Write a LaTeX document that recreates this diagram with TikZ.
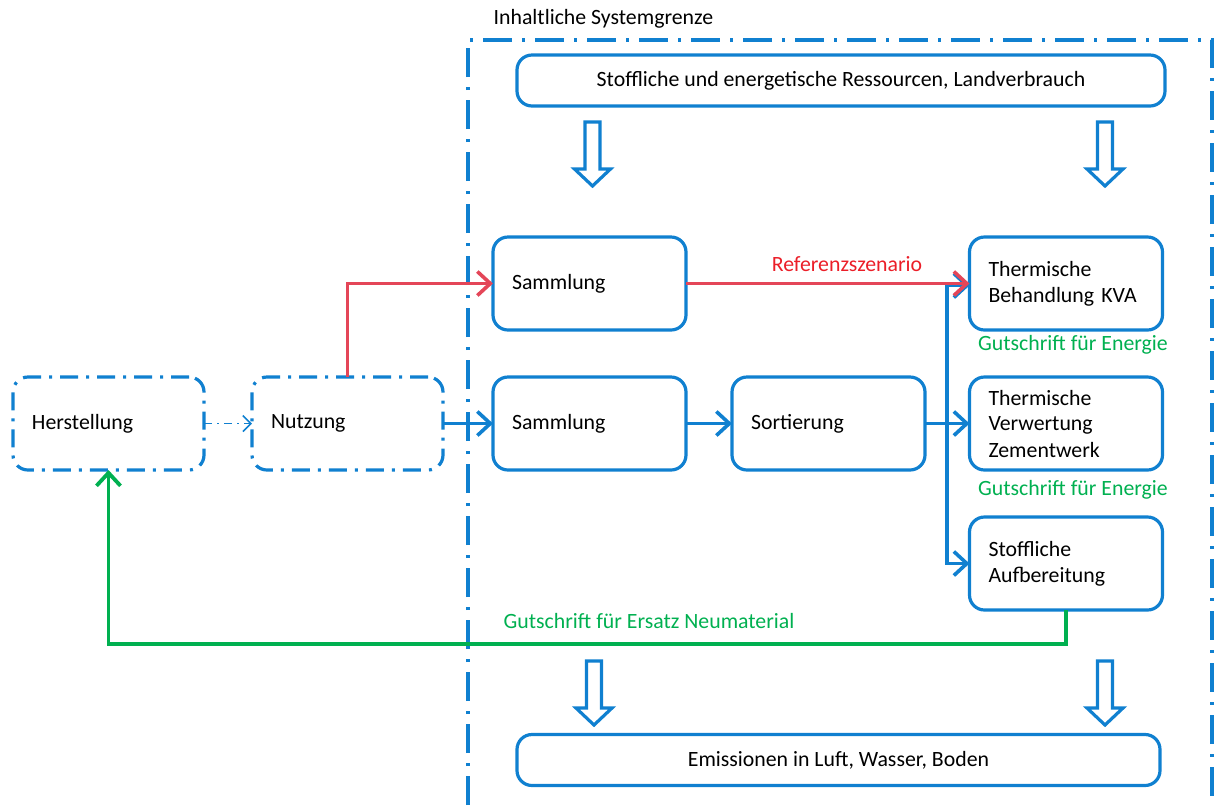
\documentclass[tikz,border=0pt]{standalone}
\usepackage{fontspec}
\setmainfont{Carlito}
\usetikzlibrary{positioning,arrows.meta,calc}
\definecolor{boxblue}{RGB}{16,128,208}
\definecolor{refred}{RGB}{228,70,88}
\definecolor{textred}{RGB}{235,30,40}
\definecolor{gutgreen}{RGB}{0,176,80}

\begin{document}
\begin{tikzpicture}[x=0.5pt,y=-0.5pt,outer sep=0pt,font=\fontsize{10.9}{13}\selectfont]
        \tikzset{box/.style={draw=boxblue,line width=1.6pt,rounded corners=7.5pt,minimum height=46.5pt,text width=77.5pt,inner xsep=9.5pt,align=left}}
        \tikzset{phase/.style={box,text width=76.5pt,dash pattern=on 9pt off 4pt on 1.5pt off 4pt}}
        \tikzset{widebox/.style={draw=boxblue,line width=1.6pt,rounded corners=7.5pt,minimum height=25.5pt,align=center}}
        \tikzset{flowline/.style={draw=boxblue,line width=1.8pt,-{Straight Barb[length=6.5pt,width=12pt]}}}
        \tikzset{refline/.style={draw=refred,line width=1.8pt,-{Straight Barb[length=6.5pt,width=12pt]}}}
        \tikzset{gutline/.style={draw=gutgreen,line width=1.9pt,-{Straight Barb[length=6.5pt,width=12pt]}}}
        \tikzset{grenze/.style={draw=boxblue,line width=1.6pt,dash pattern=on 14.5pt off 5pt on 1.5pt off 5pt}}
        \tikzset{gutlabel/.style={text=gutgreen}}
        \tikzset{downarrow/.pic={\draw[draw=boxblue,line width=1.6pt,fill=white] (-7.5,0) -- (7.5,0) -- (7.5,47) -- (18,47) -- (0,64) -- (-18,47) -- (-7.5,47) -- cycle;}}

        \useasboundingbox (0,0) rectangle (1216,805);

        % system boundary
        \draw[grenze] (468,805) -- (468,40) -- (1212,40) -- (1212,805);
        \node[anchor=west] (grenzlabel) at (487,19) {Inhaltliche Systemgrenze};

        % input / output
        \node[widebox,minimum width=324pt] (ressourcen) at (841,80.5) {Stoffliche und energetische Ressourcen, Landverbrauch};
        \node[widebox,minimum width=321.5pt] (emissionen) at (838.5,760) {Emissionen in Luft, Wasser, Boden};
        \pic at (592.5,122) {downarrow};
        \pic at (1105,122) {downarrow};
        \pic at (594,661) {downarrow};
        \pic at (1105,661) {downarrow};

        % process chain
        \node[box] (sammlungA) at (589.5,283.5) {Sammlung};
        \node[box,below=23.5pt of sammlungA] (sammlungB) {Sammlung};
        \node[box,right=23pt of sammlungB] (sortierung) {Sortierung};
        \node[phase,left=25pt of sammlungB] (nutzung) {Nutzung};
        \node[phase,left=24pt of nutzung] (herstellung) {Herstellung};
        \node[box] (kva) at (1066,283.5) {Thermische\\Behandlung KVA};
        \node[box,below=23.5pt of kva] (zement) {Thermische\\Verwertung\\Zementwerk};
        \node[box,below=23.5pt of zement] (stofflich) {Stoffliche\\Aufbereitung};

        % blue flows
        \coordinate (knot) at (947,423);
        \draw[flowline] (nutzung.east) -- (sammlungB.west);
        \draw[flowline] (sammlungB.east) -- (sortierung.west);
        \draw[flowline] (sortierung.east) -- (zement.west);
        \draw[flowline] (knot) |- ([yshift=-1pt]kva.west);
        \draw[flowline] (knot) |- (stofflich.west);
        \draw[draw=boxblue,line width=0.8pt,dash pattern=on 4pt off 2.5pt on 1pt off 2.5pt,-{Straight Barb[length=4pt,width=8pt]}] (herstellung.east) -- (nutzung.west);

        % reference scenario
        \draw[refline] (nutzung.north) |- (sammlungA.west);
        \draw[refline] (sammlungA.east) -- (kva.west);
        \node[text=textred] (reflabel) at (847,264) {Referenzszenario};

        % credits
        \node[gutlabel] (gutA) at (1073,345) {Gutschrift für Energie};
        \node[gutlabel] (gutB) at (1073,490) {Gutschrift für Energie};
        \draw[gutline] (stofflich.south) -- ++(0,34) -| (herstellung.south);
        \node[gutlabel] (gutC) at (649,621) {Gutschrift für Ersatz Neumaterial};
\end{tikzpicture}
\end{document}
